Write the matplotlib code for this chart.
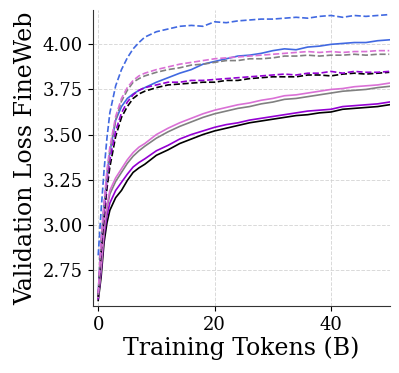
import matplotlib
matplotlib.use('Agg')
from matplotlib import pyplot as plt

# training tokens (B)
tokens = [0, 0.5, 1, 1.5, 2, 3, 4, 5, 6, 7, 8, 10, 12, 14, 16, 18, 20, 22, 24, 26,
          28, 30, 32, 34, 36, 38, 40, 42, 44, 46, 48, 50]

# dashed runs
blue_dash = [2.83, 3.08, 3.30, 3.48, 3.62, 3.77, 3.86, 3.925, 3.975, 4.01, 4.04, 4.07,
             4.085, 4.10, 4.105, 4.10, 4.125, 4.12, 4.13, 4.135, 4.14, 4.14, 4.145, 4.15,
             4.145, 4.155, 4.16, 4.15, 4.16, 4.155, 4.16, 4.165]
orchid_dash = [2.62, 2.92, 3.12, 3.30, 3.43, 3.60, 3.70, 3.76, 3.80, 3.825, 3.84, 3.86,
               3.875, 3.89, 3.90, 3.91, 3.92, 3.925, 3.93, 3.935, 3.94, 3.945, 3.95, 3.955,
               3.96, 3.955, 3.96, 3.955, 3.96, 3.96, 3.965, 3.965]
gray_dash = [2.61, 2.90, 3.10, 3.28, 3.41, 3.58, 3.685, 3.745, 3.79, 3.81, 3.825, 3.845,
             3.86, 3.87, 3.885, 3.89, 3.90, 3.91, 3.91, 3.92, 3.92, 3.925, 3.935, 3.935,
             3.94, 3.935, 3.94, 3.94, 3.945, 3.94, 3.945, 3.945]
purple_dash = [2.61, 2.88, 3.07, 3.24, 3.36, 3.52, 3.62, 3.68, 3.72, 3.745, 3.76, 3.775,
               3.79, 3.79, 3.80, 3.80, 3.805, 3.81, 3.815, 3.82, 3.825, 3.83, 3.835, 3.83,
               3.84, 3.84, 3.85, 3.84, 3.85, 3.845, 3.845, 3.85]
black_dash = [2.60, 2.85, 3.04, 3.20, 3.32, 3.49, 3.595, 3.655, 3.70, 3.725, 3.74, 3.76,
              3.775, 3.78, 3.785, 3.79, 3.79, 3.80, 3.80, 3.81, 3.815, 3.82, 3.82, 3.82,
              3.83, 3.83, 3.825, 3.835, 3.84, 3.835, 3.84, 3.845]

# solid runs
blue_solid = [2.62, 2.90, 3.10, 3.27, 3.40, 3.58, 3.655, 3.70, 3.725, 3.745, 3.76, 3.79,
              3.815, 3.84, 3.86, 3.89, 3.905, 3.92, 3.935, 3.94, 3.95, 3.965, 3.975, 3.97,
              3.985, 3.99, 4.00, 4.005, 4.01, 4.01, 4.02, 4.025]
orchid_solid = [2.60, 2.78, 2.98, 3.11, 3.19, 3.26, 3.31, 3.36, 3.40, 3.43, 3.45, 3.50,
                3.535, 3.565, 3.59, 3.615, 3.635, 3.65, 3.665, 3.675, 3.69, 3.70, 3.715, 3.72,
                3.73, 3.74, 3.75, 3.755, 3.765, 3.77, 3.775, 3.785]
gray_solid = [2.60, 2.76, 2.96, 3.09, 3.17, 3.24, 3.29, 3.34, 3.38, 3.41, 3.435, 3.48,
              3.515, 3.545, 3.57, 3.595, 3.615, 3.63, 3.645, 3.655, 3.67, 3.68, 3.695, 3.70,
              3.71, 3.72, 3.73, 3.74, 3.745, 3.75, 3.76, 3.767]
purple_solid = [2.59, 2.74, 2.94, 3.05, 3.12, 3.19, 3.235, 3.28, 3.32, 3.345, 3.365, 3.41,
                3.44, 3.475, 3.50, 3.52, 3.54, 3.555, 3.565, 3.58, 3.59, 3.60, 3.61, 3.62,
                3.63, 3.635, 3.64, 3.655, 3.66, 3.665, 3.67, 3.68]
black_solid = [2.58, 2.71, 2.90, 3.01, 3.08, 3.15, 3.19, 3.245, 3.29, 3.315, 3.335, 3.385,
               3.415, 3.45, 3.475, 3.50, 3.52, 3.535, 3.55, 3.565, 3.575, 3.585, 3.595, 3.605,
               3.61, 3.62, 3.625, 3.64, 3.645, 3.65, 3.655, 3.665]

plt.rcParams['font.family'] = ['DejaVu Serif']

fig = plt.figure(dpi=100, figsize=(3.99, 3.73))
ax = fig.add_axes([0.233, 0.18, 0.744, 0.793])

lw = 1.2
ax.plot(tokens, black_solid, c='black', lw=lw)
ax.plot(tokens, purple_solid, c='darkviolet', lw=lw)
ax.plot(tokens, gray_solid, c='gray', lw=lw)
ax.plot(tokens, orchid_solid, c='orchid', lw=lw)
ax.plot(tokens, blue_solid, c='royalblue', lw=lw)
ax.plot(tokens, black_dash, c='black', lw=lw, ls='--')
ax.plot(tokens, purple_dash, c='darkviolet', lw=lw, ls='--')
ax.plot(tokens, gray_dash, c='gray', lw=lw, ls='--')
ax.plot(tokens, orchid_dash, c='orchid', lw=lw, ls='--')
ax.plot(tokens, blue_dash, c='royalblue', lw=lw, ls='--')

ax.set_xlim(-0.9, 50.1)
ax.set_ylim(2.55, 4.19)
ax.set_xticks([0, 20, 40])
ax.set_yticks([2.75, 3.00, 3.25, 3.50, 3.75, 4.00])
ax.yaxis.set_major_formatter(matplotlib.ticker.FormatStrFormatter('%.2f'))

# 只保留左、下边框
ax.spines['top'].set_visible(False)
ax.spines['right'].set_visible(False)
ax.spines['left'].set_color('#333333')
ax.spines['bottom'].set_color('#333333')
ax.grid(True, ls='--', c='#d0d0d0', lw=0.7, alpha=0.8)

ax.set_xlabel('Training Tokens (B)', fontsize=17, labelpad=2)
ax.set_ylabel('Validation Loss FineWeb', fontsize=17, labelpad=4)
ax.tick_params(axis='both', which='major', labelsize=13)

fig.savefig('out.png', dpi=100)
